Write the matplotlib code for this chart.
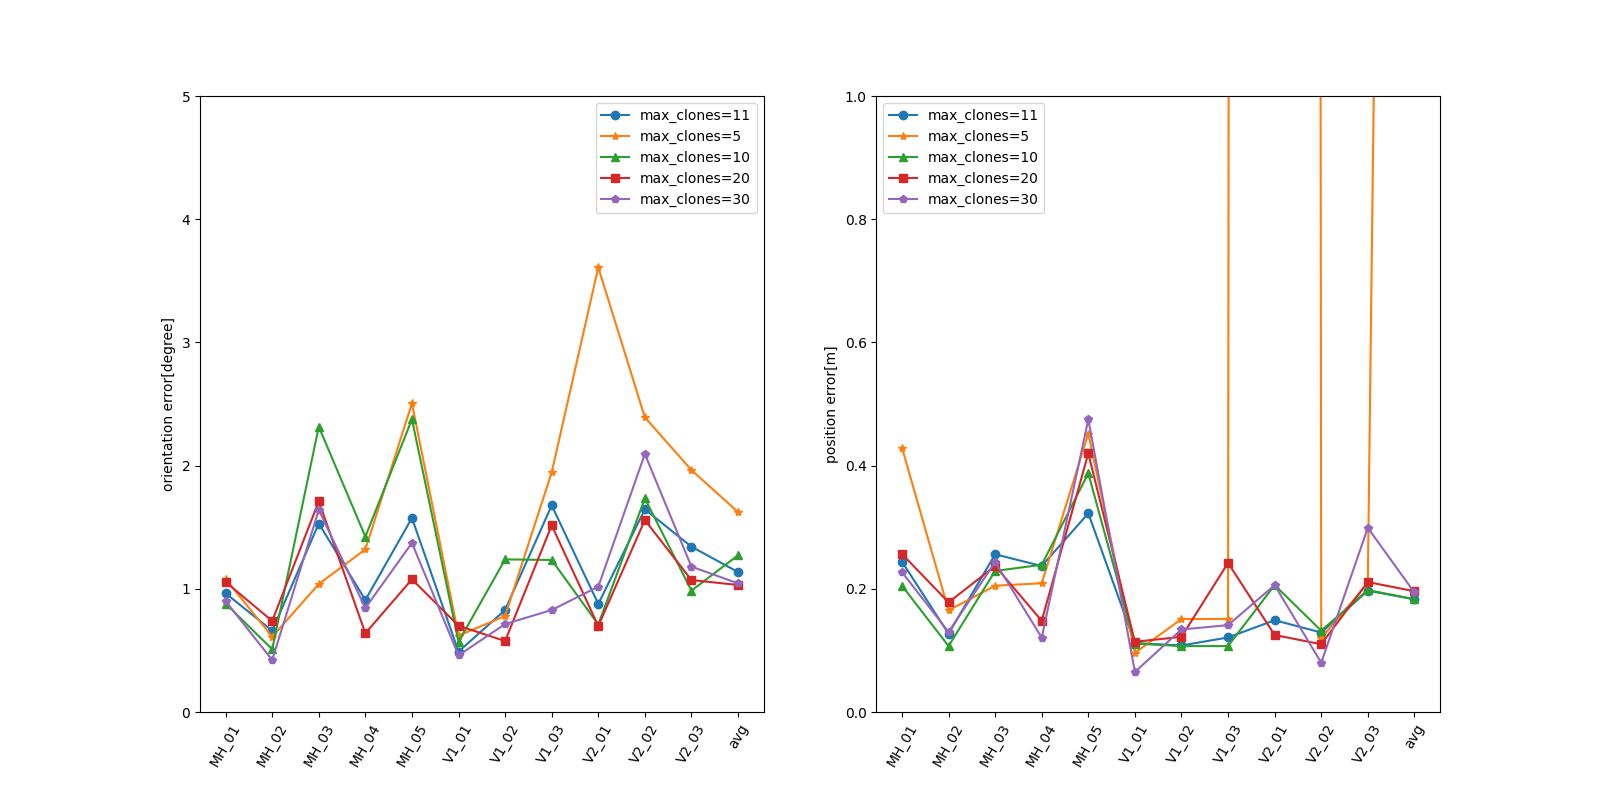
import matplotlib
matplotlib.use("Agg")
import matplotlib.pyplot as plt

sequences = ["MH_01", "MH_02", "MH_03", "MH_04", "MH_05", "V1_01", "V1_02",
             "V1_03", "V2_01", "V2_02", "V2_03", "avg"]

labels = ["max_clones=11", "max_clones=5", "max_clones=10", "max_clones=20", "max_clones=30"]
markers = ["o", "*", "^", "s", "p"]

# orientation error [degree]
ori_11 = [0.963, 0.66, 1.53, 0.909, 1.575, 0.49, 0.828, 1.677, 0.877, 1.645, 1.342, 1.136]
ori_5 = [1.08, 0.611, 1.039, 1.32, 2.505, 0.62, 0.779, 1.945, 3.609, 2.392, 1.964, 1.623]
ori_10 = [0.88, 0.509, 2.316, 1.423, 2.376, 0.57, 1.239, 1.234, 0.71, 1.734, 0.985, 1.272]
ori_20 = [1.055, 0.739, 1.71, 0.639, 1.077, 0.70, 0.576, 1.515, 0.698, 1.558, 1.071, 1.031]
ori_30 = [0.90, 0.422, 1.64, 0.844, 1.372, 0.46, 0.714, 0.828, 1.017, 2.094, 1.18, 1.044]

# position error [m]
pos_11 = [0.244, 0.127, 0.256, 0.237, 0.3225, 0.112, 0.108, 0.121, 0.149, 0.129, 0.197, 0.183]
pos_5 = [0.429, 0.165, 0.205, 0.209, 0.452, 0.096, 0.151, 0.151, 68.0, 0.120, 0.209, 6.4]
pos_10 = [0.205, 0.107, 0.229, 0.239, 0.3875, 0.111, 0.107, 0.107, 0.206, 0.132, 0.198, 0.183]
pos_20 = [0.2565, 0.178, 0.237, 0.148, 0.42, 0.114, 0.122, 0.242, 0.125, 0.110, 0.211, 0.196]
pos_30 = [0.227, 0.130, 0.2435, 0.1207, 0.475, 0.065, 0.134, 0.141, 0.206, 0.080, 0.299, 0.194]

ori_series = [ori_11, ori_5, ori_10, ori_20, ori_30]
pos_series = [pos_11, pos_5, pos_10, pos_20, pos_30]

fig, (ax1, ax2) = plt.subplots(1, 2, figsize=(16, 8), dpi=100)

for vals, lab, m in zip(ori_series, labels, markers):
    ax1.plot(sequences, vals, marker=m, label=lab)
ax1.set_ylim(0, 5)
ax1.set_ylabel("orientation error[degree]")
ax1.legend(loc="upper right")
ax1.tick_params(axis="x", labelrotation=60)

for vals, lab, m in zip(pos_series, labels, markers):
    ax2.plot(sequences, vals, marker=m, label=lab)
ax2.set_ylim(0, 1)
ax2.set_ylabel("position error[m]")
ax2.legend(loc="upper left")
ax2.tick_params(axis="x", labelrotation=60)

fig.savefig("out.png", dpi=100)
